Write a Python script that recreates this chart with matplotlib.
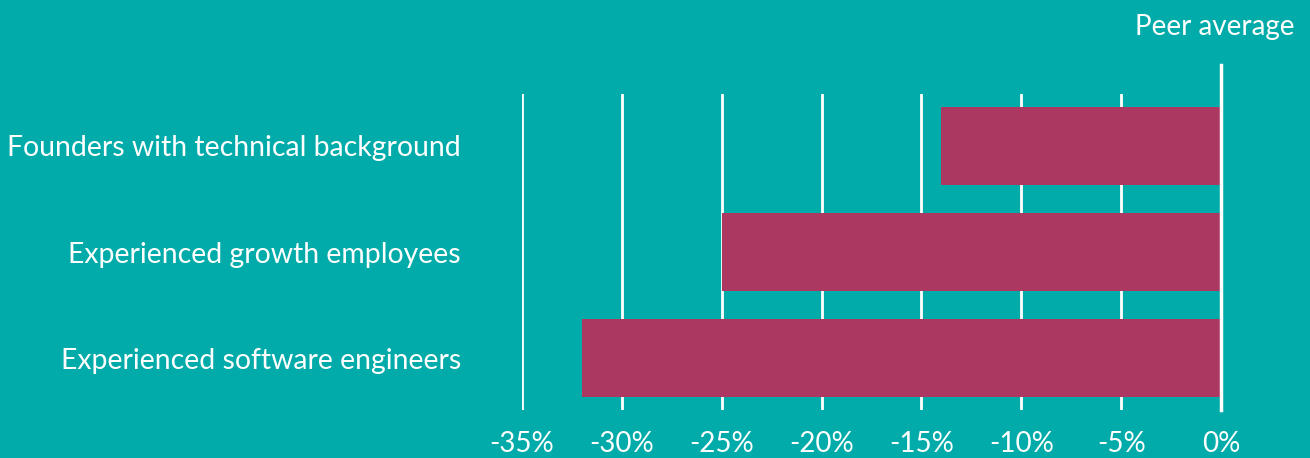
import matplotlib.pyplot as plt

# 数据
categories = ['Experienced software engineers', 'Experienced growth employees',
              'Founders with technical background']
values = [-32, -25, -14]
ticks = [-35, -30, -25, -20, -15, -10, -5, 0]
tick_labels = [f'{t}%' for t in ticks]

bg = '#00ABA9'
bar_color = '#AA3861'

plt.rcParams['font.family'] = ['Lato', 'DejaVu Sans']

fig = plt.figure(figsize=(13.1, 4.58), dpi=100, facecolor=bg)
ax = fig.add_axes([522 / 1310, 1 - 410 / 458, (1221 - 522) / 1310, (410 - 94) / 458])
ax.set_facecolor(bg)

y = range(len(categories))
ax.barh(y, values, height=0.736, color=bar_color, zorder=2)

for t in ticks[:-1]:
    ax.axvline(t, color='white', lw=2, zorder=1)
ax.plot([0, 0], [-0.49, 2.764], color='white', lw=2.5, zorder=3, clip_on=False)
ax.text(-0.3, 3.0, 'Peer average', color='white', fontsize=20,
        ha='center', va='bottom')

ax.set_xlim(-35, 0)
ax.set_ylim(-0.49, 2.49)
ax.set_xticks(ticks)
ax.set_xticklabels(tick_labels, fontsize=20, color='white')
ax.set_yticks(list(y))
ax.set_yticklabels(categories, fontsize=20.4, color='white')
ax.tick_params(length=0)
ax.tick_params(axis='x', pad=15)
ax.tick_params(axis='y', pad=44)
for s in ax.spines.values():
    s.set_visible(False)

plt.savefig('out.png', facecolor=bg)
